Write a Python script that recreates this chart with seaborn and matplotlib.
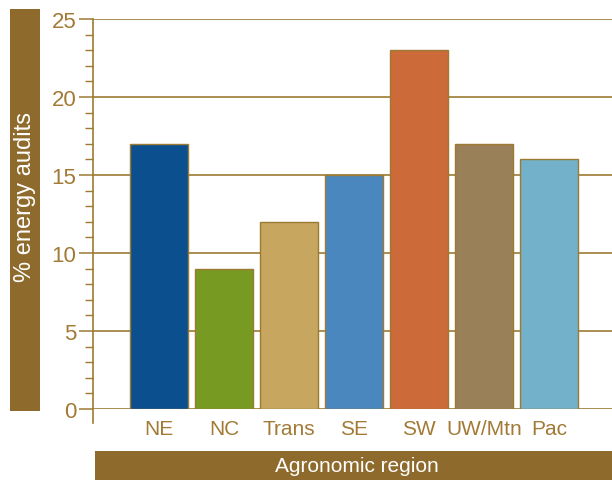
import matplotlib
matplotlib.use("Agg")
import matplotlib.pyplot as plt
from matplotlib.patches import Rectangle
import seaborn as sns
import pandas as pd

regions = ["NE", "NC", "Trans", "SE", "SW", "UW/Mtn", "Pac"]
audits_pct = [17, 9, 12, 15, 23, 17, 16]
bar_colors = ["#0b4f8f", "#779a22", "#c7a660", "#4a87bf", "#cc6a3a", "#9a8059", "#72b1c9"]

GOLD = "#9c7a32"
TEXT = "#a27a36"
BOX = "#8e6a2c"

sns.set_theme(style="white")
plt.rcParams["font.family"] = ["Liberation Sans Narrow", "Liberation Sans", "DejaVu Sans"]

fig = plt.figure(figsize=(6.12, 4.81), dpi=100)
ax = fig.add_axes([93 / 612, (481 - 410) / 481, 1 - 93 / 612, 390 / 481])

df = pd.DataFrame({"region": regions, "pct": audits_pct})
sns.barplot(data=df, x="region", y="pct", hue="region", palette=bar_colors,
            order=regions, hue_order=regions, dodge=False, legend=False,
            width=0.9, edgecolor=GOLD, linewidth=1.0, saturation=1, ax=ax, zorder=3)

ax.set_xlim(-1.02, 6.97)
ax.set_ylim(0, 25)
ax.set_yticks([0, 5, 10, 15, 20, 25])
ax.set_yticks(range(0, 26), minor=True)
for y in [0, 5, 10, 15, 20, 25]:
    ax.axhline(y, color=GOLD, lw=1.2, zorder=1)

for s in ["top", "right", "bottom"]:
    ax.spines[s].set_visible(False)
ax.spines["left"].set_color(GOLD)
ax.spines["left"].set_linewidth(1.2)
ax.spines["left"].set_bounds(-0.9, 25)

ax.tick_params(axis="y", which="major", direction="out", length=10, width=1.1,
               color=GOLD, labelcolor=TEXT, labelsize=16, pad=2, left=True)
ax.tick_params(axis="y", which="minor", direction="out", length=6, width=1.0,
               color=GOLD, left=True)
ax.tick_params(axis="x", length=0, labelcolor=TEXT, labelsize=15, pad=7)
ax.set_xlabel("")
ax.set_ylabel("")

# Label bands
fig.patches.append(Rectangle((10 / 612, (481 - 412) / 481), 30 / 612, 402 / 481,
                             transform=fig.transFigure, facecolor=BOX, edgecolor="none"))
fig.text(25 / 612, 1 - 197 / 481, "% energy audits", rotation=90, color="white",
         fontsize=17, ha="center", va="center")
fig.patches.append(Rectangle((95 / 612, 0), 517 / 612, 29 / 481,
                             transform=fig.transFigure, facecolor=BOX, edgecolor="none"))
fig.text(357 / 612, 1 - 467 / 481, "Agronomic region", color="white",
         fontsize=15, ha="center", va="center")

fig.savefig("out.png", dpi=100)
